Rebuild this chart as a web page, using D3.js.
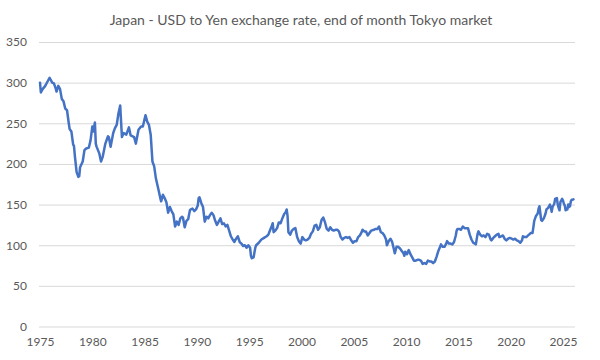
<!DOCTYPE html>
<html>
<head>
<meta charset="utf-8">
<script src="https://cdn.jsdelivr.net/npm/d3@7"></script>
<style>
  html, body { margin: 0; padding: 0; background: #ffffff; }
  svg { display: block; }
</style>
</head>
<body>
<svg id="chart" width="600" height="360"></svg>
<script>
const title = "Japan - USD to Yen exchange rate, end of month Tokyo market";
const yTicks = [0, 50, 100, 150, 200, 250, 300, 350];
const xTicks = [1975, 1980, 1985, 1990, 1995, 2000, 2005, 2010, 2015, 2020, 2025];

const months = [
"1975-01","1975-02","1975-04","1975-07","1975-10","1975-12",
"1976-03","1976-05","1976-07","1976-08","1976-10","1976-12",
"1977-02","1977-04","1977-06","1977-08","1977-10","1977-11",
"1978-01","1978-03","1978-04","1978-05","1978-07","1978-09","1978-10","1978-11",
"1979-02","1979-04","1979-06","1979-09","1979-11",
"1980-01","1980-02","1980-04","1980-05","1980-06","1980-09","1980-11",
"1981-01","1981-04","1981-07","1981-08","1981-10",
"1982-01","1982-03","1982-05","1982-07","1982-09","1982-11",
"1983-01","1983-04","1983-07","1983-09",
"1984-01","1984-03","1984-06","1984-09","1984-11",
"1985-02","1985-04","1985-06","1985-08","1985-10","1985-12",
"1986-02","1986-05","1986-07","1986-08","1986-10","1986-12",
"1987-02","1987-04","1987-06","1987-08","1987-10","1987-12",
"1988-02","1988-04","1988-06","1988-08","1988-09","1988-11",
"1989-01","1989-03","1989-05","1989-06","1989-08","1989-10","1989-12",
"1990-02","1990-03","1990-04","1990-06","1990-08","1990-10","1990-12",
"1991-02","1991-04","1991-06","1991-08","1991-10","1991-12",
"1992-02","1992-04","1992-06","1992-08","1992-10","1992-12",
"1993-02","1993-04","1993-06","1993-08","1993-10","1993-12",
"1994-02","1994-04","1994-06","1994-08","1994-10","1994-12",
"1995-02","1995-03","1995-04","1995-06","1995-08","1995-09","1995-12",
"1996-03","1996-06","1996-09","1996-11","1996-12",
"1997-03","1997-04","1997-05","1997-07","1997-09","1997-11",
"1998-01","1998-03","1998-05","1998-07","1998-08","1998-09","1998-10","1998-12",
"1999-02","1999-04","1999-06","1999-08","1999-10","1999-12",
"2000-02","2000-04","2000-06","2000-08","2000-10","2000-12",
"2001-02","2001-04","2001-06","2001-08","2001-10","2001-12",
"2002-02","2002-04","2002-06","2002-08","2002-10","2002-12",
"2003-02","2003-04","2003-06","2003-08","2003-10","2003-12",
"2004-02","2004-04","2004-06","2004-08","2004-10","2004-12",
"2005-02","2005-04","2005-06","2005-08","2005-10","2005-11",
"2006-01","2006-03","2006-05","2006-07","2006-09","2006-12",
"2007-02","2007-04","2007-06","2007-08","2007-10","2007-12",
"2008-02","2008-03","2008-05","2008-07","2008-09","2008-11","2008-12",
"2009-02","2009-04","2009-06","2009-08","2009-10","2009-11","2009-12",
"2010-02","2010-04","2010-06","2010-08","2010-10","2010-12",
"2011-02","2011-04","2011-06","2011-08","2011-10","2011-12",
"2012-02","2012-04","2012-06","2012-08","2012-10","2012-12",
"2013-02","2013-04","2013-05","2013-07","2013-09","2013-11","2013-12",
"2014-02","2014-04","2014-06","2014-08","2014-10","2014-11","2014-12",
"2015-02","2015-04","2015-06","2015-08","2015-10","2015-12",
"2016-02","2016-04","2016-06","2016-08","2016-09","2016-11","2016-12",
"2017-02","2017-04","2017-06","2017-08","2017-10","2017-12",
"2018-02","2018-03","2018-05","2018-07","2018-09","2018-11","2018-12",
"2019-02","2019-04","2019-06","2019-08","2019-10","2019-12",
"2020-02","2020-04","2020-06","2020-08","2020-10","2020-12",
"2021-02","2021-03","2021-05","2021-07","2021-09","2021-11","2021-12",
"2022-02","2022-03","2022-04","2022-06","2022-08","2022-09","2022-10","2022-11","2022-12",
"2023-01","2023-03","2023-05","2023-06","2023-08","2023-10","2023-11","2023-12",
"2024-01","2024-03","2024-04","2024-06","2024-07","2024-08","2024-09","2024-10","2024-12",
"2025-01","2025-02","2025-03","2025-04","2025-05","2025-06","2025-07","2025-08","2025-09","2025-10","2025-11","2025-12",
"2026-01"
];

const usdJpy = [
300,288,292,296,302,306,
300,299,293,289,296,292,
280,277,268,266,250,243,
240,224,222,210,190,184,185,196,
203,217,219,220,229,
246,240,251,225,221,213,203,
209,225,234,233,221,
238,244,248,262,272,233,
238,236,245,235,
233,225,242,246,246,
260,252,248,236,203,197,
182,168,158,154,162,158,
153,140,147,142,138,123,
129,125,133,135,134,122,
130,132,143,144,145,142,144,
149,158,159,152,147,129,135,
133,137,140,137,130,125,
129,133,126,127,123,125,
118,111,107,104,108,111,
104,102,99,100,97,100,
97,87,84,85,97,100,103,
107,109,111,113,116,
124,127,116,118,121,128,
127,133,138,141,144,136,116,113,
118,120,121,110,105,102,
110,107,106,107,109,114,
117,124,125,119,122,131,
134,128,120,118,122,119,
118,119,119,117,110,107,
109,110,109,110,106,103,
105,105,110,112,116,119,
117,117,112,115,118,119,
120,120,123,116,115,112,
107,100,105,108,104,95,90,
98,98,96,93,90,87,92,
89,94,89,85,81,81,
82,82,81,77,78,77,
81,80,80,78,80,86,
93,98,101,98,98,102,105,
102,102,101,104,112,118,120,
120,119,123,121,121,121,
113,107,103,102,101,114,117,
113,111,112,110,114,113,
107,106,109,111,113,114,110,
111,112,108,106,108,109,
108,107,108,106,105,103,
106,111,110,110,112,114,115,
115,122,130,136,139,145,148,139,131,
130,133,139,144,146,150,147,141,
147,151,157,158,150,146,143,153,157,
155,151,149,143,144,144,150,147,148,154,156,156,
156.5
];

const W = 600, H = 360;
const svg = d3.select("#chart");
const font = "Lato, 'Open Sans', sans-serif";
const textColor = "#595959";

const toYear = s => { const [y, m] = s.split("-").map(Number); return y + (m - 1) / 12; };
const data = months.map((m, i) => ({ t: toYear(m), v: usdJpy[i] }));

const x = d3.scaleLinear().domain([1975, 2025]).range([40, 563]);
const y = d3.scaleLinear().domain([0, 350]).range([326.5, 42]);
const gridLeft = 39, gridRight = 575;

svg.append("rect").attr("width", W).attr("height", H).attr("fill", "#ffffff");

svg.append("text")
  .attr("x", 301).attr("y", 25)
  .attr("text-anchor", "middle")
  .attr("font-family", font).attr("font-size", 14)
  .attr("fill", textColor)
  .text(title);

// y gridlines and labels via axis
const yAxis = d3.axisLeft(y).tickValues(yTicks).tickSize(-(gridRight - gridLeft)).tickPadding(12);
const gy = svg.append("g").attr("transform", `translate(${gridLeft},0)`).call(yAxis);
gy.select(".domain").remove();
gy.selectAll(".tick line").attr("stroke", "#d9d9d9").attr("stroke-width", 1);
gy.selectAll(".tick text").attr("font-family", font).attr("font-size", 12).attr("fill", textColor);

// x labels via axis
const xAxis = d3.axisBottom(x).tickValues(xTicks).tickFormat(d3.format("d")).tickSize(0).tickPadding(11);
const gx = svg.append("g").attr("transform", `translate(0,${y(0)})`).call(xAxis);
gx.select(".domain").remove();
gx.selectAll(".tick text").attr("font-family", font).attr("font-size", 12).attr("fill", textColor);

const line = d3.line().x(d => x(d.t)).y(d => y(d.v));
svg.append("path").datum(data)
  .attr("d", line)
  .attr("fill", "none")
  .attr("stroke", "#4472c4")
  .attr("stroke-width", 2.5)
  .attr("stroke-linejoin", "round")
  .attr("stroke-linecap", "round");
</script>
</body>
</html>
